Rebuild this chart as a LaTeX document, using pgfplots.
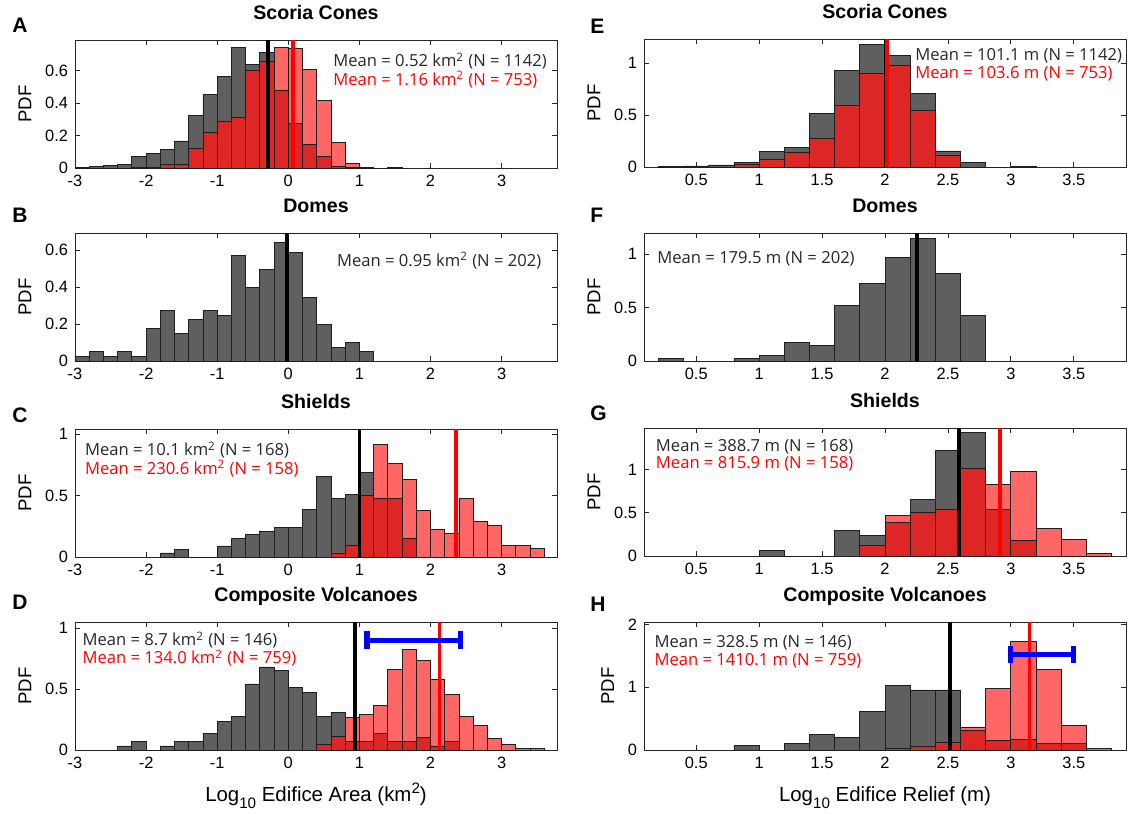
\documentclass[border=0pt]{standalone}
\usepackage{fontspec}
\setmainfont{Liberation Sans}
\newfontfamily\annfont{Open Sans}
\usepackage{pgfplots}
\pgfplotsset{compat=1.18}

\definecolor{vgray}{RGB}{95,95,95}
\definecolor{vedge}{RGB}{30,30,30}
\definecolor{vaxis}{RGB}{38,38,38}
\definecolor{lred}{RGB}{255,102,102}
\definecolor{dred}{RGB}{221,38,38}

\tikzset{
  ann/.style={anchor=west, inner sep=0pt, font=\annfont\fontsize{8.3}{9}\selectfont},
  plab/.style={anchor=north west, inner sep=0pt, font=\bfseries\fontsize{10.5}{11}\selectfont},
}
\newcommand\lblsub[1]{\raisebox{-3.6pt}{\fontsize{7.6}{8}\selectfont #1}}
\newcommand\lblsup[1]{\raisebox{4pt}{\fontsize{7.6}{8}\selectfont #1}}

\pgfplotsset{
  vol/.style={
    scale only axis, width=241pt, height=64pt,
    axis line style={vaxis, line width=0.4pt},
    every tick/.style={vaxis, line width=0.4pt},
    tick align=inside, major tick length=2.5pt,
    ticklabel style={font=\fontsize{8.2}{9}\selectfont},
    /pgf/number format/assume math mode=true,
    ymin=0,
    ylabel={PDF},
    ylabel style={font=\fontsize{9.3}{10}\selectfont},
    title style={font=\bfseries\fontsize{9.8}{10}\selectfont, at={(0.5,1)}, anchor=base, yshift=4.2pt},
    xlabel style={font=\fontsize{10.2}{11}\selectfont, at={(0.5,0)}, anchor=base, yshift=-25.5pt},
  },
  volL/.style={vol, xmin=-3, xmax=3.78, xtick={-3,-2,-1,0,1,2,3}},
  volR/.style={vol, xmin=0.085, xmax=3.915, xtick={0.5,1,1.5,2,2.5,3,3.5}},
  % black histogram
  ghist/.style={ybar interval, fill=vgray, draw=vedge, line width=0.4pt},
  % red histogram where it stands above the black one
  rhist/.style={ybar interval, fill=lred, draw=vedge, line width=0.4pt},
  % where both histograms overlap
  ohist/.style={ybar interval, fill=dred, draw=vedge, line width=0.4pt},
  mline/.style={line width=1.8pt},
  ebar/.style={blue, line width=2.6pt},
}

\begin{document}
\begin{tikzpicture}
\useasboundingbox (0,0) rectangle (564.5pt,-407pt);

% ---------------- A: scoria cones, area
\begin{axis}[volL, at={(37.5pt,-20pt)}, anchor=north west, ymax=0.79,
  ytick={0,0.2,0.4,0.6}, title={Scoria Cones}]
\addplot[ghist] coordinates {
(-3.0,0.006) (-2.8,0.01) (-2.6,0.017) (-2.4,0.02) (-2.2,0.07) (-2.0,0.09)
(-1.8,0.115) (-1.6,0.167) (-1.4,0.327) (-1.2,0.452) (-1.0,0.565) (-0.8,0.746)
(-0.6,0.64) (-0.4,0.712) (-0.2,0.48) (0.0,0.277) (0.2,0.146) (0.4,0.069)
(0.6,0.01) (0.8,0.006) (1.0,0.006) (1.2,0) (1.4,0.005) (1.6,0)};
\addplot[rhist] coordinates {
(-2.2,0.004) (-2.0,0.004) (-1.8,0.025) (-1.6,0.02) (-1.4,0.12) (-1.2,0.217)
(-1.0,0.287) (-0.8,0.312) (-0.6,0.602) (-0.4,0.656) (-0.2,0.746) (0.0,0.74)
(0.2,0.61) (0.4,0.417) (0.6,0.156) (0.8,0.027) (1.0,0)};
\addplot[ohist] coordinates {
(-2.2,0.004) (-2.0,0.004) (-1.8,0.025) (-1.6,0.02) (-1.4,0.12) (-1.2,0.217)
(-1.0,0.287) (-0.8,0.312) (-0.6,0.602) (-0.4,0.656) (-0.2,0.48) (0.0,0.277)
(0.2,0.146) (0.4,0.069) (0.6,0.01) (0.8,0.006) (1.0,0)};
\addplot[mline, black] coordinates {(-0.284,0) (-0.284,5)};
\addplot[mline, red] coordinates {(0.064,0) (0.064,5)};
\node[ann, text=vaxis] at (rel axis cs:0.535,0.834) {Mean = 0.52 km\textsuperscript{2} (N = 1142)};
\node[ann, text=red] at (rel axis cs:0.535,0.692) {Mean = 1.16 km\textsuperscript{2} (N = 753)};
\end{axis}

% ---------------- B: domes, area
\begin{axis}[volL, at={(37.5pt,-116.5pt)}, anchor=north west, ymax=0.694,
  ytick={0,0.2,0.4,0.6}, title={Domes}]
\addplot[ghist] coordinates {
(-3.0,0.025) (-2.8,0.05) (-2.6,0.025) (-2.4,0.05) (-2.2,0.025) (-2.0,0.175)
(-1.8,0.272) (-1.6,0.15) (-1.4,0.223) (-1.2,0.272) (-1.0,0.249) (-0.8,0.571)
(-0.6,0.4) (-0.4,0.497) (-0.2,0.645) (0.0,0.59) (0.2,0.343) (0.4,0.196)
(0.6,0.074) (0.8,0.099) (1.0,0.05) (1.2,0)};
\addplot[mline, black] coordinates {(-0.022,0) (-0.022,5)};
\node[ann, text=vaxis] at (rel axis cs:0.543,0.783) {Mean = 0.95 km\textsuperscript{2} (N = 202)};
\end{axis}

% ---------------- C: shields, area
\begin{axis}[volL, at={(37.5pt,-214.5pt)}, anchor=north west, ymax=1.04,
  ytick={0,0.5,1}, title={Shields}]
\addplot[ghist] coordinates {
(-1.8,0.033) (-1.6,0.063) (-1.4,0) (-1.2,0) (-1.0,0.09) (-0.8,0.15)
(-0.6,0.183) (-0.4,0.21) (-0.2,0.243) (0.0,0.243) (0.2,0.39) (0.4,0.657)
(0.6,0.477) (0.8,0.507) (1.0,0.684) (1.2,0.477) (1.4,0.477) (1.6,0.153) (1.8,0)};
\addplot[rhist] coordinates {
(0.6,0.033) (0.8,0.095) (1.0,0.5) (1.2,0.916) (1.4,0.757) (1.6,0.632)
(1.8,0.381) (2.0,0.223) (2.2,0.19) (2.4,0.477) (2.6,0.286) (2.8,0.253)
(3.0,0.095) (3.2,0.095) (3.4,0.068) (3.6,0)};
\addplot[ohist] coordinates {
(0.6,0.033) (0.8,0.095) (1.0,0.5) (1.2,0.477) (1.4,0.477) (1.6,0.153) (1.8,0)};
\addplot[mline, black] coordinates {(1.004,0) (1.004,5)};
\addplot[mline, red] coordinates {(2.363,0) (2.363,5)};
\node[ann, text=vaxis] at (rel axis cs:0.02,0.835) {Mean = 10.1 km\textsuperscript{2} (N = 168)};
\node[ann, text=red] at (rel axis cs:0.02,0.69) {Mean = 230.6 km\textsuperscript{2} (N = 158)};
\end{axis}

% ---------------- D: composite volcanoes, area
\begin{axis}[volL, at={(37.5pt,-311pt)}, anchor=north west, ymax=1.05,
  ytick={0,0.5,1}, title={Composite Volcanoes},
  xlabel={Log\lblsub{10} Edifice Area (km\lblsup{2})}]
\addplot[ghist] coordinates {
(-2.4,0.033) (-2.2,0.068) (-2.0,0) (-1.8,0.033) (-1.6,0.068) (-1.4,0.068)
(-1.2,0.136) (-1.0,0.237) (-0.8,0.272) (-0.6,0.542) (-0.4,0.681) (-0.2,0.651)
(0.0,0.515) (0.2,0.474) (0.4,0.272) (0.6,0.305) (0.8,0.068) (1.0,0.07)
(1.2,0.136) (1.4,0.07) (1.6,0.07) (1.8,0.1) (2.0,0.033) (2.2,0.07) (2.4,0)};
\addplot[rhist] coordinates {
(0.4,0.044) (0.6,0.114) (0.8,0.264) (1.0,0.294) (1.2,0.368) (1.4,0.66)
(1.6,0.828) (1.8,0.738) (2.0,0.583) (2.2,0.458) (2.4,0.275) (2.6,0.2)
(2.8,0.093) (3.0,0.046) (3.2,0.011) (3.4,0.011) (3.6,0)};
\addplot[ohist] coordinates {
(0.4,0.044) (0.6,0.114) (0.8,0.068) (1.0,0.07) (1.2,0.136) (1.4,0.07)
(1.6,0.07) (1.8,0.1) (2.0,0.033) (2.2,0.07) (2.4,0)};
\addplot[mline, black] coordinates {(0.94,0) (0.94,5)};
\addplot[mline, red] coordinates {(2.127,0) (2.127,5)};
\addplot[ebar] coordinates {(1.107,0.9) (2.42,0.9)};
\addplot[ebar] coordinates {(1.107,0.825) (1.107,0.975)};
\addplot[ebar] coordinates {(2.42,0.825) (2.42,0.975)};
\node[ann, text=vaxis] at (rel axis cs:0.015,0.86) {Mean = 8.7 km\textsuperscript{2} (N = 146)};
\node[ann, text=red] at (rel axis cs:0.015,0.718) {Mean = 134.0 km\textsuperscript{2} (N = 759)};
\end{axis}

% ---------------- E: scoria cones, relief
\begin{axis}[volR, at={(322pt,-19.5pt)}, anchor=north west, ymax=1.232,
  ytick={0,0.5,1}, title={Scoria Cones}]
\addplot[ghist] coordinates {
(0.2,0.006) (0.4,0.01) (0.6,0.02) (0.8,0.04) (1.0,0.148) (1.2,0.184)
(1.4,0.516) (1.6,0.93) (1.8,1.18) (2.0,1.077) (2.2,0.706) (2.4,0.155)
(2.6,0.042) (2.8,0) (3.0,0.005) (3.2,0)};
\addplot[ohist] coordinates {
(0.8,0.025) (1.0,0.07) (1.2,0.145) (1.4,0.274) (1.6,0.594) (1.8,0.9)
(2.0,0.974) (2.2,0.545) (2.4,0.11) (2.6,0)};
\addplot[mline, black] coordinates {(2.005,0) (2.005,5)};
\addplot[mline, red] coordinates {(2.015,0) (2.015,5)};
\node[ann, text=vaxis] at (rel axis cs:0.562,0.869) {Mean = 101.1 m (N = 1142)};
\node[ann, text=red] at (rel axis cs:0.562,0.728) {Mean = 103.6 m (N = 753)};
\end{axis}

% ---------------- F: domes, relief
\begin{axis}[volR, at={(322pt,-116.5pt)}, anchor=north west, ymax=1.2,
  ytick={0,0.5,1}, title={Domes}]
\addplot[ghist] coordinates {
(0.2,0.025) (0.4,0) (0.6,0) (0.8,0.025) (1.0,0.05) (1.2,0.172) (1.4,0.148)
(1.6,0.523) (1.8,0.723) (2.0,0.972) (2.2,1.148) (2.4,0.825) (2.6,0.425) (2.8,0)};
\addplot[mline, black] coordinates {(2.254,0) (2.254,5)};
\node[ann, text=vaxis] at (rel axis cs:0.027,0.795) {Mean = 179.5 m (N = 202)};
\end{axis}

% ---------------- G: shields, relief
\begin{axis}[volR, at={(322pt,-214pt)}, anchor=north west, ymax=1.48,
  ytick={0,0.5,1}, title={Shields}]
\addplot[ghist] coordinates {
(1.0,0.062) (1.2,0) (1.4,0) (1.6,0.3) (1.8,0.238) (2.0,0.392) (2.2,0.658)
(2.4,1.223) (2.6,1.43) (2.8,0.542) (3.0,0.18) (3.2,0)};
\addplot[rhist] coordinates {
(1.8,0.127) (2.0,0.473) (2.2,0.504) (2.4,0.538) (2.6,1.008) (2.8,0.827)
(3.0,0.98) (3.2,0.319) (3.4,0.192) (3.6,0.03) (3.8,0)};
\addplot[ohist] coordinates {
(1.8,0.127) (2.0,0.392) (2.2,0.504) (2.4,0.538) (2.6,1.008) (2.8,0.542)
(3.0,0.18) (3.2,0)};
\addplot[mline, black] coordinates {(2.59,0) (2.59,5)};
\addplot[mline, red] coordinates {(2.912,0) (2.912,5)};
\node[ann, text=vaxis] at (rel axis cs:0.024,0.852) {Mean = 388.7 m (N = 168)};
\node[ann, text=red] at (rel axis cs:0.024,0.717) {Mean = 815.9 m (N = 158)};
\end{axis}

% ---------------- H: composite volcanoes, relief
\begin{axis}[volR, at={(322pt,-311pt)}, anchor=north west, ymax=2.04,
  ytick={0,1,2}, title={Composite Volcanoes},
  xlabel={Log\lblsub{10} Edifice Relief (m)}]
\addplot[ghist] coordinates {
(0.8,0.074) (1.0,0) (1.2,0.105) (1.4,0.242) (1.6,0.205) (1.8,0.616)
(2.0,1.026) (2.2,0.958) (2.4,0.958) (2.6,0.31) (2.8,0.147) (3.0,0.174)
(3.2,0.105) (3.4,0.105) (3.6,0)};
\addplot[rhist] coordinates {
(2.0,0.02) (2.2,0.063) (2.4,0.126) (2.6,0.368) (2.8,0.984) (3.0,1.73)
(3.2,1.284) (3.4,0.395) (3.6,0.03) (3.8,0)};
\addplot[ohist] coordinates {
(2.0,0.02) (2.2,0.063) (2.4,0.126) (2.6,0.31) (2.8,0.147) (3.0,0.174)
(3.2,0.105) (3.4,0.105) (3.6,0)};
\addplot[mline, black] coordinates {(2.517,0) (2.517,5)};
\addplot[mline, red] coordinates {(3.149,0) (3.149,5)};
\addplot[ebar] coordinates {(3.0,1.52) (3.5,1.52)};
\addplot[ebar] coordinates {(3.0,1.38) (3.0,1.66)};
\addplot[ebar] coordinates {(3.5,1.38) (3.5,1.66)};
\node[ann, text=vaxis] at (rel axis cs:0.021,0.837) {Mean = 328.5 m (N = 146)};
\node[ann, text=red] at (rel axis cs:0.021,0.695) {Mean = 1410.1 m (N = 759)};
\end{axis}

% ---------------- panel letters
\node[plab] at (6pt,-9pt) {A};
\node[plab] at (6pt,-104pt) {B};
\node[plab] at (6pt,-203.5pt) {C};
\node[plab] at (6pt,-297.5pt) {D};
\node[plab] at (295pt,-9.5pt) {E};
\node[plab] at (295pt,-104pt) {F};
\node[plab] at (295pt,-202.5pt) {G};
\node[plab] at (295pt,-298.5pt) {H};
\end{tikzpicture}
\end{document}
